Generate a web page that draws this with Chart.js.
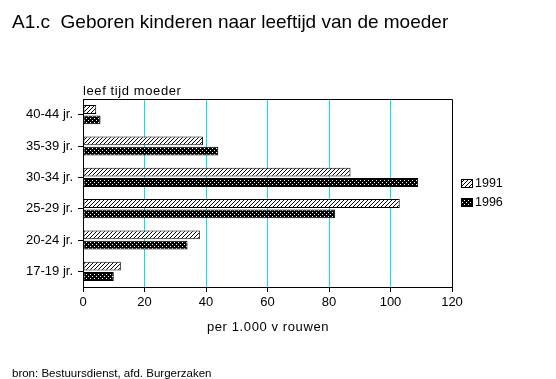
<!DOCTYPE html>
<html>
<head>
<meta charset="utf-8">
<script src="https://cdn.jsdelivr.net/npm/chart.js@4.4.0/dist/chart.umd.min.js"></script>
<style>
	html, body { margin: 0; padding: 0; background: #fff; }
	#wrap { position: relative; width: 556px; height: 379px; }
</style>
</head>
<body>
<div id="wrap"><canvas id="grafico" width="556" height="379"></canvas></div>
<script>
// categorieen en waarden (per 1.000 vrouwen)
var leeftijden = ["40-44 jr.", "35-39 jr.", "30-34 jr.", "25-29 jr.", "20-24 jr.", "17-19 jr."];
var waarden1991 = [4.3, 39, 87, 103, 38, 12.3];
var waarden1996 = [5.7, 44, 109, 82, 34, 10];
var jaren = ["1991", "1996"];
var xTicks = [0, 20, 40, 60, 80, 100, 120];

var fonte = "'Liberation Sans', Arial, sans-serif";

// patroon met schuine lijnen
function patroonArcering() {
	var c = document.createElement("canvas");
	c.width = 4;
	c.height = 4;
	var ctx = c.getContext("2d");
	ctx.fillStyle = "#fff";
	ctx.fillRect(0, 0, 4, 4);
	ctx.fillStyle = "#000";
	for (var i = 0; i < 4; i++) {
		ctx.fillRect(3 - i, i, 1, 1);
	}
	return ctx.createPattern(c, "repeat");
}

// patroon zwart met witte stippen
function patroonStippen() {
	var c = document.createElement("canvas");
	c.width = 4;
	c.height = 4;
	var ctx = c.getContext("2d");
	ctx.fillStyle = "#000";
	ctx.fillRect(0, 0, 4, 4);
	ctx.fillStyle = "#fff";
	ctx.fillRect(0, 0, 1, 1);
	ctx.fillRect(2, 2, 1, 1);
	return ctx.createPattern(c, "repeat");
}

var arcering = patroonArcering();
var stippen = patroonStippen();

// teksten, rand en legenda tekenen
var extraTekst = {
	id: "extraTekst",
	afterDraw: function (chart) {
		var ctx = chart.ctx;
		var area = chart.chartArea;
		ctx.save();

		ctx.strokeStyle = "#000";
		ctx.lineWidth = 1;
		ctx.beginPath();
		ctx.moveTo(Math.round(area.left) + 0.5, Math.round(area.top) + 0.5);
		ctx.lineTo(Math.round(area.right) + 0.5, Math.round(area.top) + 0.5);
		ctx.lineTo(Math.round(area.right) + 0.5, Math.round(area.bottom) + 0.5);
		ctx.stroke();

		ctx.fillStyle = "#000";
		ctx.textBaseline = "alphabetic";
		ctx.textAlign = "left";
		ctx.font = "19px " + fonte;
		ctx.fillText("A1.c  Geboren kinderen naar leeftijd van de moeder", 12, 28);

		ctx.font = "13px " + fonte;
		ctx.letterSpacing = "0.6px";
		ctx.fillText("leef tijd moeder", 83, 95);

		ctx.textAlign = "center";
		ctx.fillText("per 1.000 v rouwen", 268, 331);

		ctx.letterSpacing = "0px";
		ctx.textAlign = "left";
		ctx.font = "11.5px " + fonte;
		ctx.fillText("bron: Bestuursdienst, afd. Burgerzaken", 12, 377);

		// legenda
		var vullingen = [arcering, stippen];
		var ys = [180, 199];
		ctx.font = "12.5px " + fonte;
		ctx.textBaseline = "middle";
		for (var i = 0; i < jaren.length; i++) {
			ctx.fillStyle = vullingen[i];
			ctx.fillRect(462, ys[i], 10, 7);
			ctx.strokeStyle = "#000";
			ctx.strokeRect(461.5, ys[i] - 0.5, 11, 8);
			ctx.fillStyle = "#000";
			ctx.fillText(jaren[i], 475, ys[i] + 4);
		}
		ctx.restore();
	},
};

new Chart(document.getElementById("grafico"), {
	type: "bar",
	data: {
		labels: leeftijden,
		datasets: [
			{
				label: jaren[0],
				data: waarden1991,
				backgroundColor: arcering,
				borderColor: "#000",
				borderWidth: 1,
				borderSkipped: false,
				barPercentage: 0.86,
				categoryPercentage: 0.66,
			},
			{
				label: jaren[1],
				data: waarden1996,
				backgroundColor: stippen,
				borderColor: "#000",
				borderWidth: 1,
				borderSkipped: false,
				barPercentage: 0.86,
				categoryPercentage: 0.66,
			},
		],
	},
	options: {
		indexAxis: "y",
		responsive: false,
		animation: false,
		layout: {
			padding: { left: 0, right: 104, top: 99, bottom: 72 },
		},
		plugins: {
			legend: { display: false },
			tooltip: { enabled: false },
		},
		scales: {
			x: {
				min: 0,
				max: 120,
				afterBuildTicks: function (scale) {
					scale.ticks = xTicks.map(function (v) {
						return { value: v };
					});
				},
				afterFit: function (scale) {
					scale.height = 20;
				},
				grid: {
					color: function (c) {
						var v = c.tick ? c.tick.value : 0;
						return v == 0 || v == 120 ? "rgba(0,0,0,0)" : "#00e5ee";
					},
					tickColor: "#000",
					tickLength: 5,
					lineWidth: 1,
				},
				border: { color: "#000", width: 1 },
				ticks: {
					color: "#000",
					font: { family: fonte, size: 13 },
					padding: 3,
					maxRotation: 0,
				},
			},
			y: {
				afterFit: function (scale) {
					scale.width = 83;
				},
				grid: {
					offset: false,
					drawOnChartArea: false,
					tickColor: "#000",
					tickLength: 5,
				},
				border: { color: "#000", width: 1 },
				ticks: {
					color: "#000",
					font: { family: fonte, size: 13 },
					padding: 5,
				},
			},
		},
	},
	plugins: [extraTekst],
});
</script>
</body>
</html>
